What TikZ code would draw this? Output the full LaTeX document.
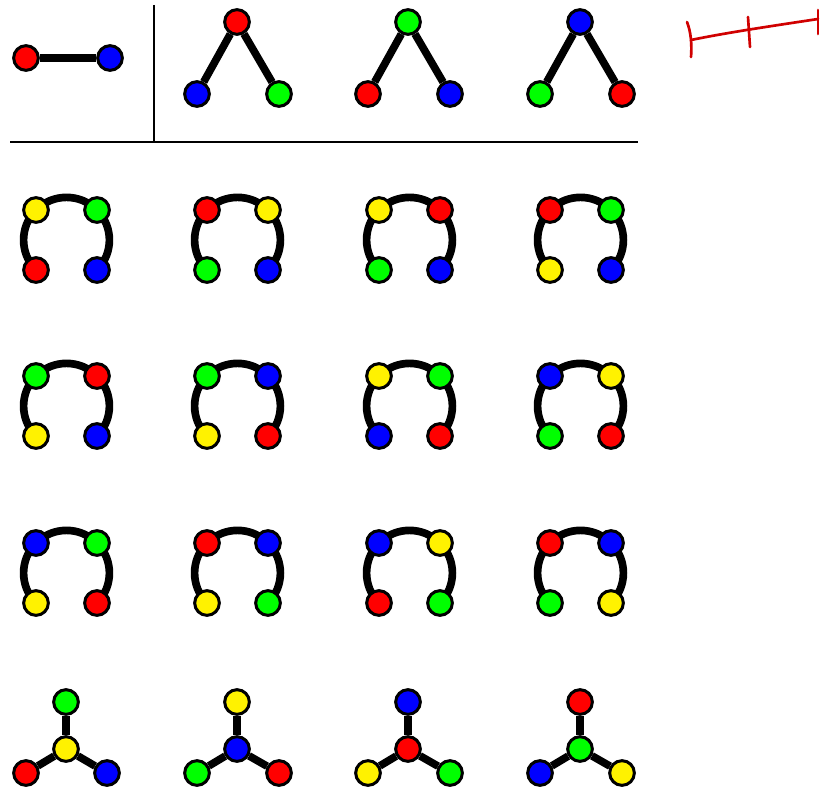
\documentclass[tikz,border=0pt]{standalone}
\usepackage{tikz}
\usepackage{xcolor}
\usetikzlibrary{backgrounds}

\definecolor{penred}{RGB}{208,0,0}

\begin{document}
\begin{tikzpicture}[
    x=0.03cm, y=-0.03cm,
    vtx/.style={circle, draw=black, line width=0.09cm, minimum size=0.74cm, inner sep=0pt},
    rv/.style={vtx, fill=red},
    gv/.style={vtx, fill=green},
    bv/.style={vtx, fill=blue},
    yv/.style={vtx, fill=yellow},
    edge/.style={line width=0.23cm},
    arc/.style={edge, bend left=45},
    rule/.style={line width=0.05cm},
    pen/.style={penred, line width=0.08cm, line cap=round}
]
\useasboundingbox (0,0) rectangle (820,789);

% Single edge
\node[rv] (e1) at (26,58) {};
\node[bv] (e2) at (110,58) {};

% Wedges (apex, left, right)
\node[rv] (w1a) at (237,22) {}; \node[bv] (w1b) at (197,94) {}; \node[gv] (w1c) at (279,94) {};
\node[gv] (w2a) at (408,22) {}; \node[rv] (w2b) at (368,94) {}; \node[bv] (w2c) at (450,94) {};
\node[bv] (w3a) at (580,22) {}; \node[gv] (w3b) at (540,94) {}; \node[rv] (w3c) at (622,94) {};

% Separators
\coordinate (vtop) at (154,5);
\coordinate (vbot) at (154,142);
\coordinate (hl) at (10,142);
\coordinate (hr) at (638,142);
\draw[rule] (vtop) -- (vbot);
\draw[rule] (hl) -- (hr);

% Paths, row 1 (a = top left, b = top right, c = bottom left, d = bottom right)
\node[yv] (p11a) at (36,210) {};  \node[gv] (p11b) at (97,210) {};  \node[rv] (p11c) at (36,270) {};  \node[bv] (p11d) at (97,270) {};
\node[rv] (p12a) at (207,210) {}; \node[yv] (p12b) at (268,210) {}; \node[gv] (p12c) at (207,270) {}; \node[bv] (p12d) at (268,270) {};
\node[yv] (p13a) at (379,210) {}; \node[rv] (p13b) at (440,210) {}; \node[gv] (p13c) at (379,270) {}; \node[bv] (p13d) at (440,270) {};
\node[rv] (p14a) at (550,210) {}; \node[gv] (p14b) at (611,210) {}; \node[yv] (p14c) at (550,270) {}; \node[bv] (p14d) at (611,270) {};

% Paths, row 2
\node[gv] (p21a) at (36,376) {};  \node[rv] (p21b) at (97,376) {};  \node[yv] (p21c) at (36,436) {};  \node[bv] (p21d) at (97,436) {};
\node[gv] (p22a) at (207,376) {}; \node[bv] (p22b) at (268,376) {}; \node[yv] (p22c) at (207,436) {}; \node[rv] (p22d) at (268,436) {};
\node[yv] (p23a) at (379,376) {}; \node[gv] (p23b) at (440,376) {}; \node[bv] (p23c) at (379,436) {}; \node[rv] (p23d) at (440,436) {};
\node[bv] (p24a) at (550,376) {}; \node[yv] (p24b) at (611,376) {}; \node[gv] (p24c) at (550,436) {}; \node[rv] (p24d) at (611,436) {};

% Paths, row 3
\node[bv] (p31a) at (36,543) {};  \node[gv] (p31b) at (97,543) {};  \node[yv] (p31c) at (36,603) {};  \node[rv] (p31d) at (97,603) {};
\node[rv] (p32a) at (207,543) {}; \node[bv] (p32b) at (268,543) {}; \node[yv] (p32c) at (207,603) {}; \node[gv] (p32d) at (268,603) {};
\node[bv] (p33a) at (379,543) {}; \node[yv] (p33b) at (440,543) {}; \node[rv] (p33c) at (379,603) {}; \node[gv] (p33d) at (440,603) {};
\node[rv] (p34a) at (550,543) {}; \node[bv] (p34b) at (611,543) {}; \node[gv] (p34c) at (550,603) {}; \node[yv] (p34d) at (611,603) {};

% Stars (top, centre, left, right)
\node[gv] (s1t) at (66,702) {};  \node[yv] (s1c) at (66,749) {};  \node[rv] (s1l) at (26,773) {};  \node[bv] (s1r) at (107,773) {};
\node[yv] (s2t) at (237,702) {}; \node[bv] (s2c) at (237,749) {}; \node[gv] (s2l) at (197,773) {}; \node[rv] (s2r) at (279,773) {};
\node[bv] (s3t) at (408,702) {}; \node[rv] (s3c) at (408,749) {}; \node[yv] (s3l) at (368,773) {}; \node[gv] (s3r) at (450,773) {};
\node[rv] (s4t) at (580,702) {}; \node[gv] (s4c) at (580,749) {}; \node[bv] (s4l) at (540,773) {}; \node[yv] (s4r) at (622,773) {};

% Edges go behind the vertices
\begin{scope}[on background layer]
\draw[edge] (e1) -- (e2);
\foreach \w in {1,2,3}
  \draw[edge] (w\w b) -- (w\w a) -- (w\w c);
\foreach \r in {1,2,3}
  \foreach \c in {1,2,3,4}
    \draw[arc] (p\r\c c.center) to (p\r\c a.center) to (p\r\c b.center) to (p\r\c d.center);
\foreach \s in {1,2,3,4} {
  \draw[edge] (s\s c) -- (s\s t);
  \draw[edge] (s\s c) -- (s\s l);
  \draw[edge] (s\s c) -- (s\s r);
}
\end{scope}

% Scale mark
\draw[pen] (691,40) .. controls (725,33) and (765,27) .. (818,19);
\draw[pen] (687,22) .. controls (691,32) and (692,45) .. (691,57);
\draw[pen] (748,17) -- (750,47);
\draw[pen] (818,10) -- (818,34);

\end{tikzpicture}
\end{document}
